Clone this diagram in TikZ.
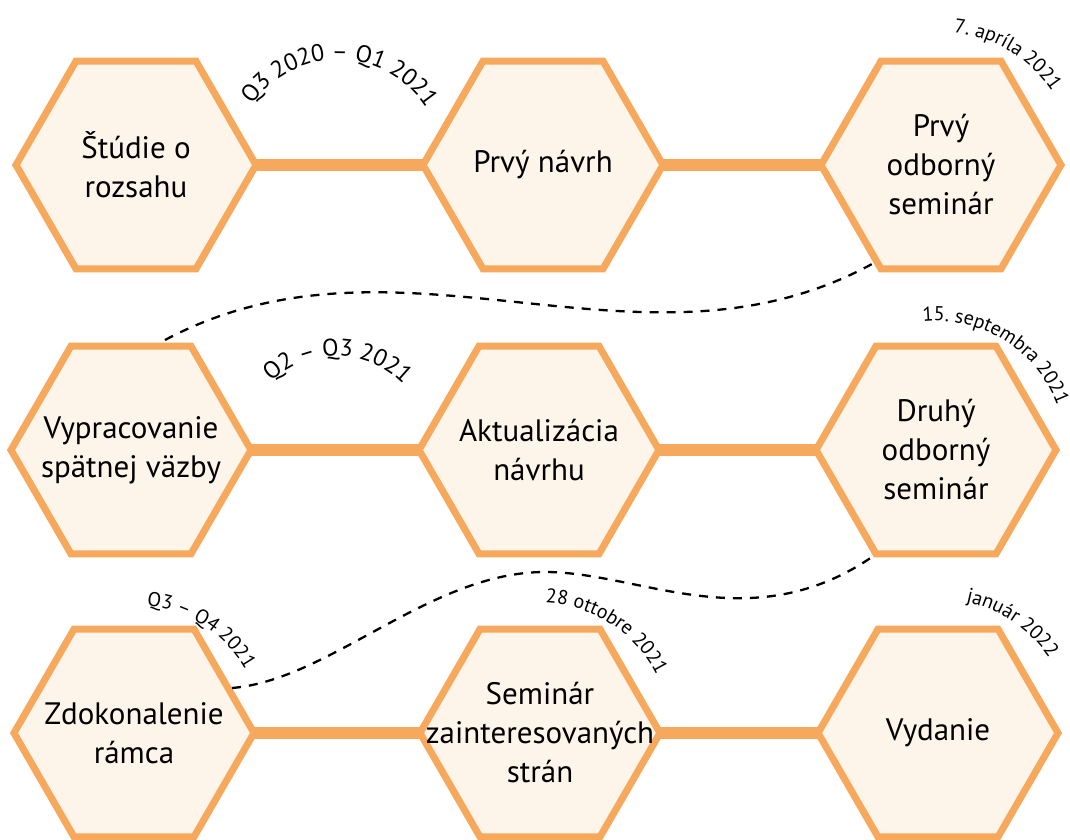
\documentclass[tikz,border=0pt]{standalone}
\usepackage{fontspec}
\setmainfont{PT Sans}
\usetikzlibrary{shapes.geometric,decorations.text}
\definecolor{hexorange}{HTML}{F6A85C}
\definecolor{hexfill}{HTML}{FDF4EA}
\newcommand\mainsize{\fontsize{31}{39}\selectfont}
\newcommand\datesize{\fontsize{20}{20}\selectfont}
\newcommand\barsize{\fontsize{24}{24}\selectfont}
\pgfdeclarelayer{bg}
\pgfsetlayers{bg,main}
\begin{document}
\begin{tikzpicture}[x=1pt,y=1pt,
  hexa/.style={regular polygon, regular polygon sides=6, minimum size=240pt,
    inner sep=0pt, outer sep=0pt, draw=hexorange, fill=hexfill, line width=7pt},
  lbl/.style={align=center, font=\mainsize, inner sep=0pt, text=black},
  bar/.style={draw=hexorange, line width=12pt},
  link/.style={draw=black, line width=2.3pt, dash pattern=on 9pt off 8pt},
  arctext/.style={decorate, decoration={text along path, text align=center, text={#1}}}
]
\useasboundingbox (0,0) rectangle (1070,839);

% hexagons
\node[hexa] (h11) at (136,674) {};
\node[hexa] (h12) at (543,674) {};
\node[hexa] (h13) at (941,674) {};
\node[hexa] (h21) at (131,389) {};
\node[hexa] (h22) at (539,389) {};
\node[hexa] (h23) at (936,389) {};
\node[hexa] (h31) at (134,106) {};
\node[hexa] (h32) at (540,106) {};
\node[hexa] (h33) at (938,106) {};

% texts
\node[lbl] (t11) at (h11) {Štúdie o\\rozsahu};
\node[lbl] (t12) at (h12) {Prvý návrh};
\node[lbl] (t13) at (h13) {Prvý\\odborný\\seminár};
\node[lbl] (t21) at (h21) {Vypracovanie\\spätnej väzby};
\node[lbl] (t22) at (h22) {Aktualizácia\\návrhu};
\node[lbl] (t23) at (h23) {Druhý\\odborný\\seminár};
\node[lbl] (t31) at (h31) {Zdokonalenie\\rámca};
\node[lbl] (t32) at (h32) {Seminár\\zainteresovaných\\strán};
\node[lbl] (t33) at (h33) {Vydanie};

% bars
\begin{pgfonlayer}{bg}
\draw[bar] (h11.east) -- (h12.west);
\draw[bar] (h12.east) -- (h13.west);
\draw[bar] (h21.east) -- (h22.west);
\draw[bar] (h22.east) -- (h23.west);
\draw[bar] (h31.east) -- (h32.west);
\draw[bar] (h32.east) -- (h33.west);
\end{pgfonlayer}

% dashed links
\coordinate (c1s) at (872,575);
\coordinate (c1e) at (165,499);
\coordinate (c2s) at (872,282);
\coordinate (c2m) at (545,267);
\coordinate (c2e) at (232,151);
\draw[link] (c1e) .. controls (400,624) and (640,449) .. (c1s);
\draw[link] (c2e) .. controls (330,159) and (430,267) .. (c2m)
  .. controls (640,267) and (750,199) .. (c2s);

% arc labels
\coordinate (m1) at (338,674);
\coordinate (m2) at (336,389);
\path[arctext={|\barsize|Q3 2020 – Q1 2021}] (m1) ++(160:105) arc[start angle=160, end angle=18, radius=105];
\path[arctext={|\barsize|Q2 – Q3 2021}] (m2) ++(160:94) arc[start angle=160, end angle=18, radius=94];
\path[arctext={|\datesize|7. apríla 2021}] (h13) ++(120:133) arc[start angle=120, end angle=-2, radius=133];
\path[arctext={|\datesize|15. septembra 2021}] (h23) ++(118:129) arc[start angle=118, end angle=-2, radius=129];
\path[arctext={|\datesize|Q3 – Q4 2021}] (h31) ++(117:128) arc[start angle=117, end angle=-3, radius=128];
\path[arctext={|\datesize|28 ottobre 2021}] (h32) ++(117:130) arc[start angle=117, end angle=-3, radius=130];
\path[arctext={|\datesize|január 2022}] (h33) ++(116:134) arc[start angle=116, end angle=-4, radius=134];
\end{tikzpicture}
\end{document}
